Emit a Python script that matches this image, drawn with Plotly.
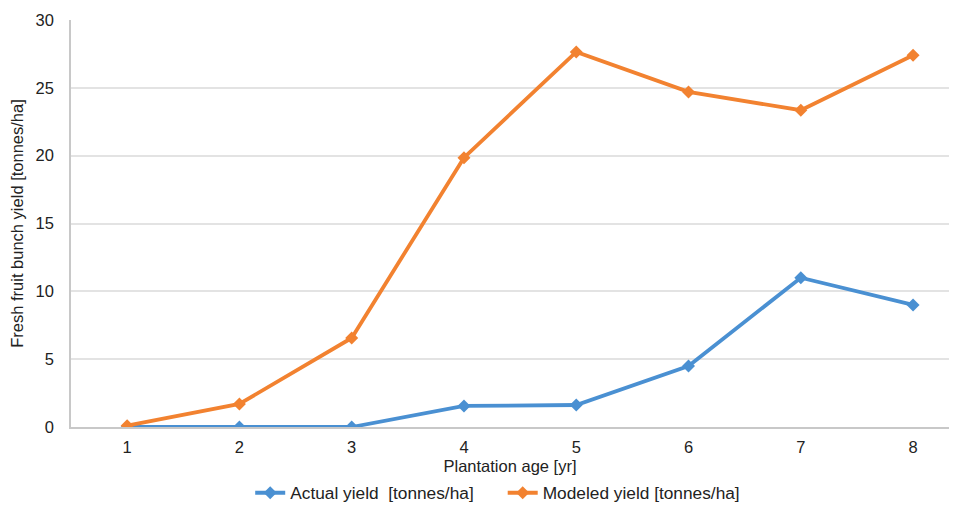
import plotly.graph_objects as go

ages = [1, 2, 3, 4, 5, 6, 7, 8]
actual_yield = [0.0, 0.0, 0.0, 1.55, 1.62, 4.5, 11.0, 9.0]
modeled_yield = [0.1, 1.7, 6.56, 19.85, 27.65, 24.7, 23.35, 27.4]
y_ticks = [0, 5, 10, 15, 20, 25, 30]

fig = go.Figure()
fig.add_trace(go.Scatter(
    x=ages, y=actual_yield, mode="lines+markers",
    name="Actual yield\u00a0 [tonnes/ha]\u00a0\u00a0\u00a0\u00a0\u00a0",
    line=dict(color="#4A90D2", width=3.8),
    marker=dict(symbol="diamond", size=10, color="#4A90D2"),
))
fig.add_trace(go.Scatter(
    x=ages, y=modeled_yield, mode="lines+markers",
    name="Modeled yield [tonnes/ha]",
    line=dict(color="#F28230", width=3.8),
    marker=dict(symbol="diamond", size=10, color="#F28230"),
))

fig.update_layout(
    width=941, height=500,
    margin=dict(l=63, r=0, t=12, b=81, autoexpand=False),
    paper_bgcolor="white", plot_bgcolor="white",
    font=dict(family="Liberation Sans, Arial, sans-serif", size=16.5, color="#222"),
    showlegend=True,
    legend=dict(orientation="h", x=0.486, xanchor="center", yref="container",
                y=0.03, yanchor="middle",
                font=dict(size=17.3), traceorder="normal"),
    xaxis=dict(
        range=[0.5, 8.32], tickmode="array", tickvals=ages,
        ticktext=[str(a) for a in ages], showgrid=False,
        showline=True, linecolor="#C8C8C8", linewidth=1.5,
        ticks="", zeroline=False, automargin=False, ticklabelstandoff=4,
        title=dict(text="Plantation age [yr]", standoff=22, font=dict(size=16.5)),
    ),
    yaxis=dict(
        range=[0, 30], tickmode="array", tickvals=y_ticks,
        showgrid=True, gridcolor="#E3E3E3", gridwidth=1.5,
        showline=True, linecolor="#C8C8C8", linewidth=1.5,
        ticks="", zeroline=False, ticklabelstandoff=12, automargin=False,
        title=dict(text="Fresh fruit bunch yield [tonnes/ha]", standoff=10, font=dict(size=16.5)),
    ),
)

fig.write_html("out.html")
